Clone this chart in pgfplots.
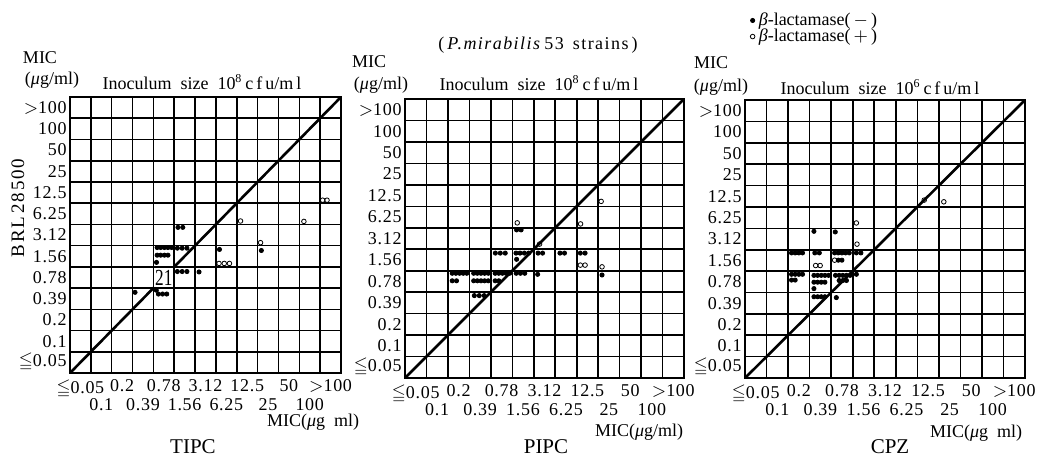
\documentclass[border=0pt]{standalone}
\usepackage{fontspec}
\setmainfont{Liberation Serif}
\usepackage{amssymb}
\usepackage{pgfplots}
\pgfplotsset{compat=1.18}

\newcommand\ninept{\fontsize{9}{10}\selectfont}
\newcommand\micro{\textit{μ}}

% MIC categories: 0 = <=0.05, 1 = 0.1, ..., 12 = >100 (cells centred on integers)
\pgfplotsset{
  micgrid/.style={
    scale only axis, clip=false,
    xmin=-0.5, xmax=12.5, ymin=-0.5, ymax=12.5,
    axis line style={line width=1pt},
    major tick length=0pt, minor tick length=0pt,
    xtick={0,2,4,6,8,10,12},
    xticklabels={$\leqq$0.05,0.2,0.78,3.12,12.5,50,$>$100},
    extra x ticks={1,3,5,7,9,11},
    extra x tick labels={0.1,0.39,1.56,6.25,25,100},
    extra x tick style={grid=none, xticklabel style={yshift=-9.5pt}},
    ytick={0,...,12},
    yticklabels={$\leqq$0.05,0.1,0.2,0.39,0.78,1.56,3.12,6.25,12.5,25,50,100,$>$100},
    minor xtick={0.5,1.5,...,11.5},
    minor ytick={0.5,1.5,...,11.5},
    xminorgrids=true, yminorgrids=true,
    minor grid style={black, line width=0.8pt},
    tick label style={font=\ninept\addfontfeatures{LetterSpace=4}},
    xticklabel style={inner sep=3pt},
    yticklabel style={inner sep=1.5pt},
  },
  neg/.style={only marks, mark=*, mark size=1.05pt, mark options={draw=black, fill=black}},
  pos/.style={only marks, mark=o, mark size=1.15pt, mark options={draw=black, fill=white, line width=0.4pt}},
  diag/.style={line width=1.3pt, black},
}

\begin{document}
\begin{tikzpicture}[every node/.style={font=\ninept}]
\path[use as bounding box] (0,0) rectangle (521pt,-233.5pt);

% ---------------- TIPC ----------------
\begin{axis}[micgrid, at={(35pt,-48.5pt)}, anchor=north west,
  width=135.5pt, height=138pt]
\addplot[diag] coordinates {(-0.5,-0.5) (12.5,12.5)};
\node[fill=white, inner sep=0pt, minimum width=9.4pt, minimum height=9.6pt,
  font=\fontsize{11.5}{12}\selectfont] at (axis cs:4,4) {\scalebox{0.75}[1]{21}};
\addplot[neg] coordinates {
  (4.68,6.36) (4.91,6.36)
  (3.68,5.41) (3.85,5.41) (4.03,5.41) (4.20,5.41) (4.38,5.41)
  (3.68,5.05) (3.85,5.05) (4.03,5.05) (4.20,5.05)
  (3.65,4.71)
  (4.65,5.38) (4.88,5.38) (5.11,5.38)
  (4.65,4.28) (4.88,4.28) (5.11,4.28)
  (5.69,4.26)
  (2.62,3.30)
  (3.64,3.40) (3.74,3.22) (3.94,3.22) (4.14,3.22)
  (6.67,5.32)
  (8.68,5.27)
};
\addplot[pos] coordinates {
  (6.65,4.66) (6.90,4.66) (7.15,4.66)
  (7.68,6.66)
  (8.64,5.64)
  (10.72,6.64)
  (11.62,7.64) (11.83,7.64)
};
\end{axis}

% ---------------- PIPC ----------------
\begin{axis}[micgrid, at={(202.5pt,-49.5pt)}, anchor=north west,
  width=139.5pt, height=139.5pt]
\addplot[diag] coordinates {(-0.5,-0.5) (12.5,12.5)};
\addplot[neg] coordinates {
  (4.70,6.40) (4.91,6.40)
  (3.71,5.32) (3.94,5.32) (4.17,5.32)
  (4.67,5.32) (4.86,5.32) (5.06,5.32) (5.26,5.32) (4.70,5.03)
  (5.70,5.32) (5.91,5.32)
  (6.72,5.32) (6.93,5.32)
  (7.67,5.32) (7.89,5.32)
  (8.68,4.30)
  (1.70,4.38) (1.87,4.38) (2.04,4.38) (2.21,4.38) (2.38,4.38)
  (1.70,4.03) (1.90,4.03)
  (2.70,4.38) (2.87,4.38) (3.04,4.38) (3.21,4.38) (3.38,4.38)
  (2.70,4.03) (2.87,4.03) (3.04,4.03) (3.21,4.03) (3.38,4.03)
  (3.70,4.38) (3.87,4.38) (4.04,4.38) (4.21,4.38) (4.38,4.38)
  (3.70,4.03) (3.87,4.03)
  (4.68,4.38) (4.88,4.38) (5.08,4.38)
  (5.68,4.33)
  (2.73,3.34) (2.96,3.34) (3.19,3.34)
};
\addplot[pos] coordinates {
  (4.73,6.73) (7.68,6.68) (8.64,7.73) (5.77,5.74)
  (7.67,4.76) (7.89,4.76) (8.68,4.68)
};
\end{axis}

% ---------------- CPZ ----------------
\begin{axis}[micgrid, at={(372.5pt,-50pt)}, anchor=north west,
  width=140pt, height=139pt,
  legend style={at={(rel axis cs:0,1.32)}, anchor=north west, draw=none,
    fill=none, inner sep=0pt, row sep=-1pt, nodes={inner sep=0.6pt},
    font=\fontsize{9}{10}\selectfont\addfontfeatures{LetterSpace=6}},
  legend cell align=left,
  legend image code/.code={\path (0cm,0cm) (0.2cm,0cm);
    \draw[mark repeat=2,mark phase=2]
    plot coordinates {(0cm,0cm)(0.12cm,0cm)(0.2cm,0cm)};}]
\addplot[diag, forget plot] coordinates {(-0.5,-0.5) (12.5,12.5)};
\addplot[neg] coordinates {
  (2.70,6.36) (3.69,6.33)
  (1.66,5.35) (1.83,5.35) (2.00,5.35) (2.17,5.35)
  (2.74,5.35) (2.95,5.35)
  (3.66,5.35) (3.83,5.35) (4.00,5.35) (4.17,5.35) (4.34,5.35)
  (3.83,5.01) (4.00,5.01)
  (4.67,5.35) (4.88,5.35)
  (1.66,4.35) (1.83,4.35) (2.00,4.35) (2.17,4.35)
  (1.66,4.08) (1.83,4.08)
  (2.70,4.30) (2.87,4.30) (3.04,4.30) (3.21,4.30) (3.38,4.30)
  (2.70,3.98) (2.87,3.98) (3.04,3.98) (3.21,3.98)
  (2.70,3.68)
  (3.70,4.30) (3.87,4.30) (4.04,4.30) (4.21,4.30) (4.38,4.30)
  (3.87,4.06) (4.04,4.06) (4.21,4.06)
  (4.67,4.35)
  (2.70,3.30) (2.87,3.30) (3.04,3.30) (3.21,3.30)
  (3.74,3.26)
};
\addlegendentry{\textit{β}-lactamase(\,$-$\,)}
\addplot[pos] coordinates {
  (7.82,7.82) (8.73,7.74) (4.67,6.75) (4.70,5.76)
  (3.66,5.01) (2.78,4.76) (2.99,4.76)
};
\addlegendentry{\textit{β}-lactamase(\,$+$\,)}
\end{axis}

% ---------------- labels ----------------
% TIPC
\node at (20pt,-29pt) {MIC};
\node at (26pt,-40pt) {(\micro g/ml)};
\node at (101pt,-41pt) {Inoculum\enspace size\enspace 10\textsuperscript{8}\,c\,f\,u/m\,l};
\node[rotate=90, font=\fontsize{9.5}{10}\selectfont\addfontfeatures{LetterSpace=10}] at (9pt,-104pt) {BRL\,28500};
\node[anchor=west] at (130pt,-211pt) {MIC(\micro g\enspace ml)};
\node[font=\fontsize{10.5}{12}\selectfont] at (96.5pt,-223.5pt) {TIPC};
% PIPC
\node[font=\ninept\addfontfeatures{LetterSpace=8}] at (269pt,-22.5pt) {(\,\textit{P.mirabilis}\,53\enspace strains\,)};
\node at (184.5pt,-31pt) {MIC};
\node at (190.5pt,-42.5pt) {(\micro g/ml)};
\node at (269.5pt,-41.5pt) {Inoculum\enspace size\enspace 10\textsuperscript{8}\,c\,f\,u/m\,l};
\node[anchor=west] at (294pt,-216pt) {MIC(\micro g/ml)};
\node[font=\fontsize{10.5}{12}\selectfont] at (273pt,-223.5pt) {PIPC};
% CPZ
\node at (355.5pt,-31.5pt) {MIC};
\node at (360.5pt,-43.5pt) {(\micro g/ml)};
\node at (440pt,-43.5pt) {Inoculum\enspace size\enspace 10\textsuperscript{6}\,c\,f\,u/m\,l};
\node[anchor=west] at (461.5pt,-216.5pt) {MIC(\micro g\enspace ml)};
\node[font=\fontsize{10.5}{12}\selectfont] at (445pt,-223.5pt) {CPZ};
\end{tikzpicture}
\end{document}
